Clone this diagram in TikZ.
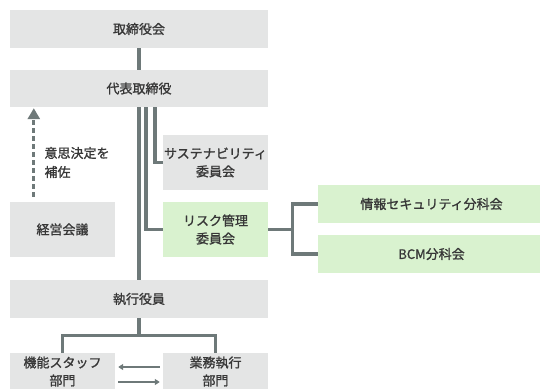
\documentclass[tikz,border=0pt]{standalone}
\usepackage{fontspec}
\setmainfont{Noto Sans CJK JP}[FakeBold=1.3]
\usetikzlibrary{arrows.meta}
\definecolor{boxgray}{RGB}{228,229,229}
\definecolor{boxgreen}{RGB}{217,242,207}
\definecolor{linec}{RGB}{110,121,121}
\definecolor{textc}{RGB}{55,55,55}

\begin{document}
\begin{tikzpicture}[x=1pt, y=-1pt,
		box/.style={fill=boxgray, text=textc, inner sep=0pt, align=center, font=\fontsize{13}{18}\selectfont},
		gbox/.style={box, fill=boxgreen},
		link/.style={draw=linec, line width=3.2pt},
		flow/.style={draw=linec, line width=1.6pt, -{Triangle[width=6pt,length=5pt]}}]
		\useasboundingbox (0,0) rectangle (540,388);
		\clip (0,0) rectangle (540,388);
		
		\node[box, minimum width=258pt, minimum height=38pt] (board) at (139,29) {取締役会};
		\node[box, minimum width=258pt, minimum height=37pt] (rep) at (139,88.5) {代表取締役};
		\node[box, minimum width=105pt, minimum height=55pt] (sus) at (215.5,162.5) {サステナビリティ\\委員会};
		\node[box, minimum width=105pt, minimum height=55pt] (mgmt) at (62.5,229.5) {経営会議};
		\node[gbox, minimum width=105pt, minimum height=55pt] (risk) at (215.5,229.5) {リスク管理\\委員会};
		\node[gbox, minimum width=227pt, minimum height=38pt] (info) at (431.5,204) {情報セキュリティ分科会};
		\node[gbox, minimum width=227pt, minimum height=38pt] (bcm) at (431.5,254) {BCM分科会};
		\node[box, minimum width=258pt, minimum height=38pt] (exec) at (139,299) {執行役員};
		\node[box, minimum width=105pt, minimum height=37pt] (staff) at (62.5,371.5) {機能スタッフ\\部門};
		\node[box, minimum width=105pt, minimum height=37pt] (ops) at (215.5,371.5) {業務執行\\部門};
		
		\node[text=textc, anchor=west, align=left, font=\fontsize{13}{19}\selectfont] (note) at (41,162.5) {意思決定を\\補佐};
		
		\draw[link] (board) -- (rep);
		\draw[link] (rep.south) -- (exec.north);
		\draw[link] ([xshift=7pt]rep.south) |- (risk.west);
		\draw[link] ([xshift=16pt]rep.south) |- (sus.west);
		
		\draw[link] (risk.east) -- ++(24,0) coordinate (rj);
		\draw[link] (info.west) -| (rj) |- (bcm.west);
		
		\draw[link] (exec.south) -- ++(0,17) coordinate (ej);
		\draw[link] (staff.north) |- (ej) -| (ops.north);
		
		\draw[flow] ([xshift=-3pt, yshift=4.5pt]ops.west) -- ([xshift=3pt, yshift=4.5pt]staff.east);
		\draw[flow] ([xshift=3pt, yshift=-10.5pt]staff.east) -- ([xshift=-3pt, yshift=-10.5pt]ops.west);
		
		\draw[draw=linec, line width=3.2pt, dash pattern=on 5pt off 3pt, -{Triangle[width=12pt,length=11pt]}]
			([xshift=24pt, yshift=5pt]mgmt.north west) -- ([xshift=24pt, yshift=-1pt]rep.south west);
		\end{tikzpicture}
\end{document}
